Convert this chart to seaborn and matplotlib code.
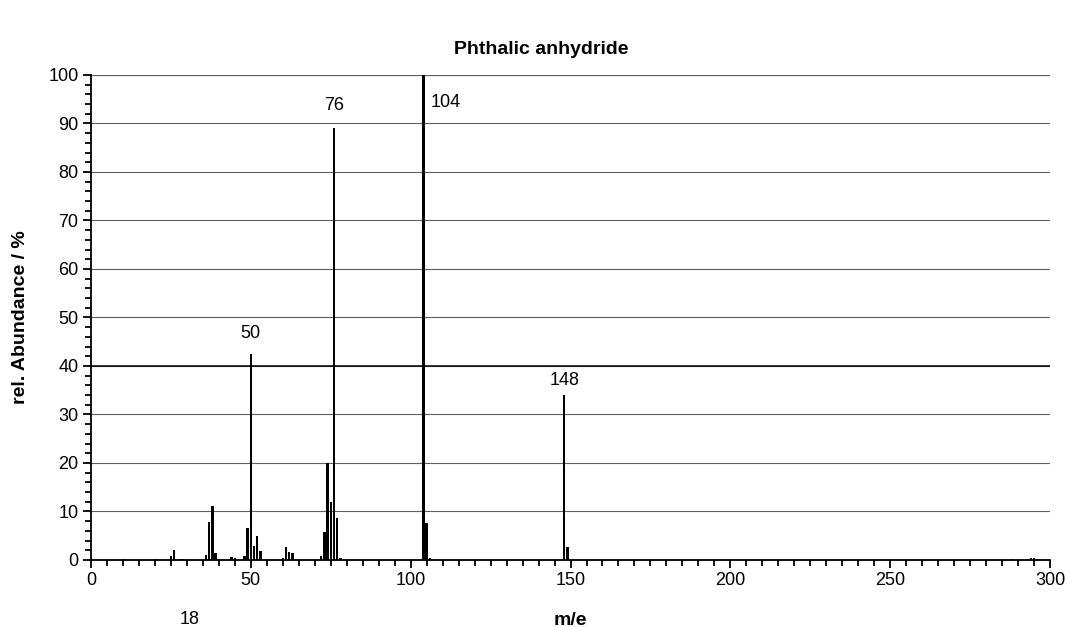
import matplotlib
matplotlib.use('Agg')
import matplotlib.pyplot as plt
from matplotlib.ticker import MultipleLocator
import seaborn as sns
import pandas as pd

# mass spectrum (m/e, rel. abundance %)
mz = [10, 11, 20, 21, 25, 26, 28, 29, 36, 37, 38, 39, 44, 45, 48, 49, 50, 51, 52, 53,
      60, 61, 62, 63, 72, 73, 74, 75, 76, 77, 78, 104, 105, 106, 148, 149,
      288, 293, 294, 295, 296]
abundance = [0.3, 0.3, 0.3, 0.3, 0.8, 2.0, 0.3, 0.3, 1.0, 7.9, 11.1, 1.4, 0.7, 0.5, 0.8, 6.5, 42.5, 2.9, 4.9, 1.9,
             0.5, 2.6, 1.6, 1.4, 0.8, 5.8, 20.0, 12.0, 89.0, 8.6, 0.5, 100.0, 7.6, 0.5, 34.0, 2.7,
             0.3, 0.3, 0.4, 0.4, 0.3]
labelled = {50: 42.5, 76: 89.0, 104: 100.0, 148: 34.0}

df = pd.DataFrame({'mz': mz, 'abundance': abundance})

sns.set_style('white')
plt.rcParams['font.family'] = ['Liberation Sans', 'DejaVu Sans']
plt.rcParams['text.color'] = 'black'
plt.rcParams['axes.labelcolor'] = 'black'
plt.rcParams['xtick.color'] = 'black'
plt.rcParams['ytick.color'] = 'black'

fig = plt.figure(figsize=(10.65, 6.27), dpi=100)
ax = fig.add_axes([0.0854, 0.1069, 0.9006, 0.7735])

sns.histplot(data=df, x='mz', weights='abundance', discrete=True, shrink=0.75,
             color='black', edgecolor='none', alpha=1, ax=ax, zorder=3)

ax.set_xlim(0, 300)
ax.set_ylim(0, 100)
ax.xaxis.set_major_locator(MultipleLocator(50))
ax.xaxis.set_minor_locator(MultipleLocator(5))
ax.yaxis.set_major_locator(MultipleLocator(10))
ax.yaxis.set_minor_locator(MultipleLocator(2))
ax.tick_params(axis='both', which='major', labelsize=13, length=6, width=1.3,
               direction='out', color='black', labelcolor='black', bottom=True, left=True, pad=3)
ax.tick_params(axis='both', which='minor', length=4, width=1.3, direction='out',
               color='black', bottom=True, left=True)

ax.grid(axis='y', which='major', color='#606060', linewidth=0.8, zorder=0)
ax.axhline(40, color='black', linewidth=1.1, zorder=1)
ax.axhline(100, color='#606060', linewidth=0.8, zorder=1)

for s in ['top', 'right']:
    ax.spines[s].set_visible(False)
for s in ['left', 'bottom']:
    ax.spines[s].set_color('black')
    ax.spines[s].set_linewidth(1.3)

ax.set_xlabel('m/e', fontsize=14, fontweight='bold', labelpad=16, color='black')
ax.set_ylabel('rel. Abundance / %', fontsize=14, fontweight='bold', labelpad=14, color='black')

# peak labels
ax.text(50, labelled[50] + 2.5, '50', ha='center', va='bottom', fontsize=13)
ax.text(76, labelled[76] + 3.0, '76', ha='center', va='bottom', fontsize=13)
ax.text(106.3, labelled[104] - 5.6, '104', ha='left', va='center', fontsize=13)
ax.text(148, labelled[148] + 1.3, '148', ha='center', va='bottom', fontsize=13)

fig.text(190 / 1065, 1 - 619 / 627, '18', ha='center', va='center', fontsize=13)
fig.text(541 / 1065, 1 - 49 / 627, 'Phthalic anhydride', ha='center', va='center',
         fontsize=14, fontweight='bold')

fig.savefig('out.png', dpi=100)
